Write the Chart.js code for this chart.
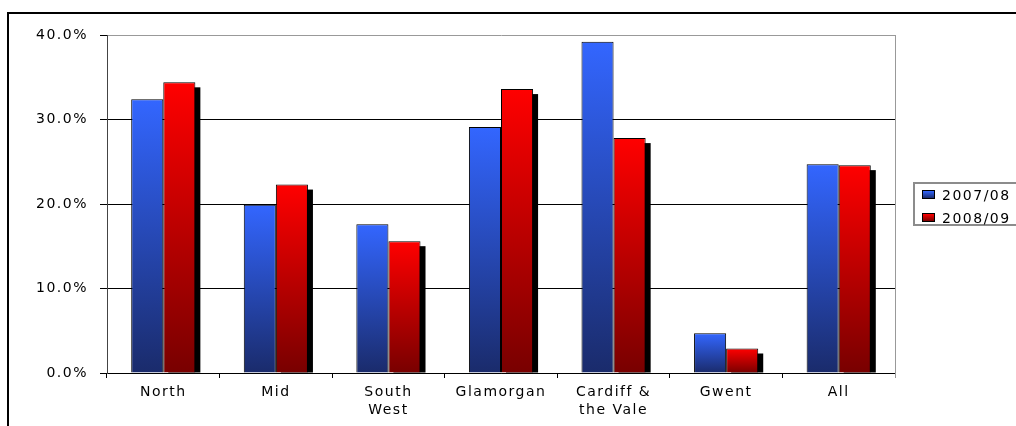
<!DOCTYPE html>
<html>
<head>
<meta charset="utf-8">
<script src="https://cdn.jsdelivr.net/npm/chart.js@4.4.1/dist/chart.umd.min.js"></script>
<style>
  html, body { margin: 0; padding: 0; background: #fff; overflow: hidden; }
  #wrap { position: relative; width: 1016px; height: 426px; }
  #frame { position: absolute; left: 7px; top: 12px; width: 1100px; height: 500px; border: 2px solid #000; box-sizing: border-box; }
  #chartBox { position: absolute; left: 0; top: 0; width: 1016px; height: 426px; }
  #legend { position: absolute; left: 913px; top: 182px; width: 130px; height: 44px; border: 2px solid #8c8c8c; box-sizing: border-box; background: #fff;
            font-family: "DejaVu Sans", sans-serif; font-size: 14px; letter-spacing: 1.5px; color: #000; }
  .item { position: absolute; left: 7px; height: 18px; line-height: 18px; white-space: nowrap; }
  .sw { display: inline-block; width: 11px; height: 7px; border: 1px solid #000; margin-right: 7px; vertical-align: 1px; }
</style>
</head>
<body>
<div id="wrap">
  <div id="frame"></div>
  <div id="chartBox"><canvas id="chart"></canvas></div>
  <div id="legend"></div>
</div>
<script>
// data
const categories = ['North', 'Mid', ['South', 'West'], 'Glamorgan', ['Cardiff &', 'the Vale'], 'Gwent', 'All'];
const seriesNames = ['2007/08', '2008/09'];
const values0708 = [32.4, 19.9, 17.6, 29.1, 39.2, 4.7, 24.7];
const values0809 = [34.4, 22.3, 15.6, 33.6, 27.8, 2.9, 24.6];
const yMin = 0, yMax = 40, yStep = 10;

// light at top, dark at base
const palette = [
    { light: '#3366ff', dark: '#1a2b6b' },
    { light: '#ff0000', dark: '#780000' }
];

const FONT = { family: '"DejaVu Sans", sans-serif', size: 14 };

function barGradient(i) {
    return (ctx) => {
        const chart = ctx.chart;
        if (!chart.chartArea || ctx.type !== 'data') return palette[i].light;
        const y = chart.scales.y;
        const top = y.getPixelForValue(ctx.raw);
        const base = y.getPixelForValue(0);
        if (!isFinite(top) || base - top < 1) return palette[i].light;
        const g = chart.ctx.createLinearGradient(0, top, 0, base);
        g.addColorStop(0, palette[i].light);
        g.addColorStop(1, palette[i].dark);
        return g;
    };
}

// black drop shadow behind the second series + grey right edge of plot
const decor = {
    id: 'decor',
    beforeDraw(chart) {
        chart.ctx.letterSpacing = '1.5px';
    },
    beforeDatasetsDraw(chart) {
        const ctx = chart.ctx;
        const meta = chart.getDatasetMeta(1);
        ctx.save();
        ctx.fillStyle = '#000';
        meta.data.forEach(bar => {
            const left = bar.x - bar.width / 2 + 5;
            const top = bar.y + 5;
            const h = bar.base - top;
            if (h > 0) ctx.fillRect(left, top, bar.width, h);
        });
        ctx.restore();
    },
    afterDraw(chart) {
        const a = chart.chartArea;
        const ctx = chart.ctx;
        ctx.save();
        ctx.strokeStyle = '#999';
        ctx.lineWidth = 1;
        ctx.beginPath();
        ctx.moveTo(Math.round(a.right) + 0.5, a.top);
        ctx.lineTo(Math.round(a.right) + 0.5, a.bottom + 5);
        ctx.stroke();
        ctx.restore();
    }
};

const chart = new Chart(document.getElementById('chart'), {
    type: 'bar',
    data: {
        labels: categories,
        datasets: [
            { label: seriesNames[0], data: values0708, backgroundColor: barGradient(0), borderColor: '#000', borderWidth: 1 },
            { label: seriesNames[1], data: values0809, backgroundColor: barGradient(1), borderColor: '#000', borderWidth: 1 }
        ]
    },
    options: {
        responsive: true,
        maintainAspectRatio: false,
        animation: false,
        layout: { padding: { left: 0, top: 35, right: 121, bottom: 0 } },
        datasets: { bar: { categoryPercentage: 0.57, barPercentage: 1.0 } },
        plugins: { legend: { display: false }, tooltip: { enabled: false } },
        scales: {
            x: {
                grid: { offset: true, drawOnChartArea: false, drawTicks: true, tickLength: 5, tickColor: '#000' },
                border: { display: true, color: '#000', width: 1 },
                ticks: { color: '#000', font: { ...FONT, lineHeight: 1.29 }, padding: 5, maxRotation: 0, autoSkip: false },
                afterFit(scale) { scale.height = 53; }
            },
            y: {
                min: yMin,
                max: yMax,
                ticks: {
                    stepSize: yStep,
                    color: '#000',
                    font: FONT,
                    padding: 12,
                    callback: v => v.toFixed(1) + '%'
                },
                grid: {
                    color: c => (c.tick && c.tick.value === yMax) ? '#999' : '#000',
                    tickColor: '#000',
                    tickLength: 7,
                    drawTicks: true
                },
                border: { display: true, color: '#444', width: 1 },
                afterFit(scale) { scale.width = 107; }
            }
        }
    },
    plugins: [decor]
});

// legend
const legend = document.getElementById('legend');
seriesNames.forEach((name, i) => {
    const row = document.createElement('div');
    row.className = 'item';
    row.style.top = (i === 0 ? 2 : 25) + 'px';
    row.innerHTML = `<span class="sw" style="background: linear-gradient(${palette[i].light}, ${palette[i].dark});"></span>${name}`;
    legend.appendChild(row);
});
</script>
</body>
</html>
